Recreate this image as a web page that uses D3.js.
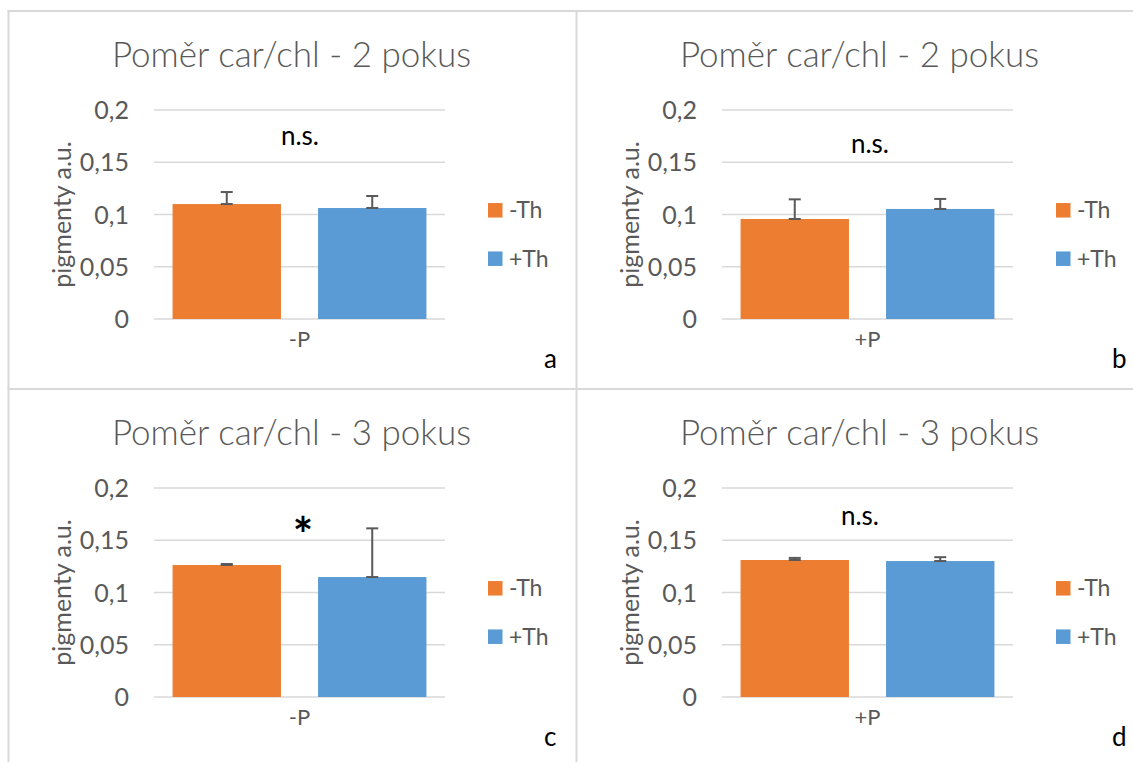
<!DOCTYPE html>
<html>
<head>
<meta charset="utf-8">
<script src="https://cdn.jsdelivr.net/npm/d3@7"></script>
<style>
  body { margin: 0; background: #fff; }
  svg { display: block; }
  text { font-family: Lato, "Open Sans", sans-serif; }
</style>
</head>
<body>
<svg id="chart" width="1133" height="762"></svg>
<script>
// ---- data ----
const panelTitles = [
  "Poměr car/chl - 2 pokus",
  "Poměr car/chl - 2 pokus",
  "Poměr car/chl - 3 pokus",
  "Poměr car/chl - 3 pokus"
];
const categories = ["-P", "+P", "-P", "+P"];
const seriesNames = ["-Th", "+Th"];
const minusThValues = [0.110, 0.0957, 0.1263, 0.1311];
const plusThValues  = [0.1062, 0.1053, 0.1148, 0.1301];
const minusThErrors = [0.0115, 0.0188, 0.001, 0.002];
const plusThErrors  = [0.0115, 0.0096, 0.0466, 0.0037];
const significance  = ["n.s.", "n.s.", "*", "n.s."];
const panelLetters  = ["a", "b", "c", "d"];
const yTickValues   = [0, 0.05, 0.1, 0.15, 0.2];
const yAxisTitle    = "pigmenty a.u.";

// ---- layout ----
const seriesColors = ["#ED7D31", "#5B9BD5"];
const panelOrigins = [[8, 10], [576, 10], [8, 388], [576, 388]];
const plot = { left: 146, right: 437, top: 100, bottom: 309 };
const sigOffsets = [[292, 135], [294, 143], [295, 164], [284, 137]];

const czech = d3.formatLocale({ decimal: ",", thousands: " ", grouping: [3], currency: ["", " Kč"] });
const fmt = czech.format("~g");

const svg = d3.select("#chart");
svg.append("rect").attr("width", 1133).attr("height", 762).attr("fill", "#fff");

// frame lines separating the four charts
const frame = svg.append("g").attr("stroke", "#D9D9D9").attr("stroke-width", 2).attr("fill", "none");
frame.append("line").attr("x1", 7.5).attr("x2", 1133).attr("y1", 11).attr("y2", 11);
frame.append("line").attr("x1", 7.5).attr("x2", 1133).attr("y1", 389).attr("y2", 389);
frame.append("line").attr("x1", 8.5).attr("x2", 8.5).attr("y1", 10).attr("y2", 762);
frame.append("line").attr("x1", 576.5).attr("x2", 576.5).attr("y1", 10).attr("y2", 762);

const y = d3.scaleLinear().domain([0, 0.2]).range([plot.bottom, plot.top]);

panelOrigins.forEach(([ox, oy], i) => {
  const g = svg.append("g").attr("transform", `translate(${ox},${oy})`);

  // title
  g.append("text")
    .attr("x", 283.5).attr("y", 57)
    .attr("text-anchor", "middle")
    .attr("font-size", 35).attr("font-weight", 300)
    .attr("fill", "#595959")
    .text(panelTitles[i]);

  // gridlines
  g.append("g").selectAll("line").data(yTickValues).join("line")
    .attr("x1", plot.left).attr("x2", plot.right)
    .attr("y1", d => y(d)).attr("y2", d => y(d))
    .attr("stroke", "#D9D9D9").attr("stroke-width", 1.5);

  // y axis labels
  const yAxis = g.append("g")
    .attr("transform", `translate(${plot.left},0)`)
    .call(d3.axisLeft(y).tickValues(yTickValues).tickFormat(fmt).tickSize(0).tickPadding(25));
  yAxis.select(".domain").remove();
  yAxis.selectAll("text").attr("font-size", 25).attr("fill", "#595959")
    .attr("font-family", "Lato, 'Open Sans', sans-serif").attr("dy", "0.34em");

  // y axis title
  g.append("text")
    .attr("transform", `translate(54,204.5) rotate(-90)`)
    .attr("text-anchor", "middle").attr("dy", "0.35em")
    .attr("font-size", 25).attr("fill", "#595959")
    .text(yAxisTitle);

  // bars
  const x0 = d3.scaleBand().domain([categories[i]]).range([plot.left, plot.right]);
  const x1 = d3.scaleBand().domain(seriesNames).range([0, x0.bandwidth()])
    .paddingInner(0.255).paddingOuter(0.1276);
  const rows = seriesNames.map((s, k) => ({
    series: s,
    value: k === 0 ? minusThValues[i] : plusThValues[i],
    err: k === 0 ? minusThErrors[i] : plusThErrors[i],
    color: seriesColors[k]
  }));
  const barG = g.append("g").attr("transform", `translate(${x0(categories[i])},0)`);
  barG.selectAll("rect").data(rows).join("rect")
    .attr("x", d => x1(d.series)).attr("width", x1.bandwidth())
    .attr("y", d => y(d.value)).attr("height", d => y(0) - y(d.value))
    .attr("fill", d => d.color);

  // error bars
  const eb = barG.selectAll("g.err").data(rows).join("g").attr("class", "err")
    .attr("stroke", "#595959").attr("stroke-width", 2);
  eb.append("line")
    .attr("x1", d => x1(d.series) + x1.bandwidth() / 2)
    .attr("x2", d => x1(d.series) + x1.bandwidth() / 2)
    .attr("y1", d => y(d.value)).attr("y2", d => y(d.value + d.err));
  [d => d.value, d => d.value + d.err].forEach(acc => {
    eb.append("line")
      .attr("x1", d => x1(d.series) + x1.bandwidth() / 2 - 6)
      .attr("x2", d => x1(d.series) + x1.bandwidth() / 2 + 6)
      .attr("y1", d => y(acc(d))).attr("y2", d => y(acc(d)));
  });

  // category label
  g.append("text")
    .attr("x", (plot.left + plot.right) / 2).attr("y", 337)
    .attr("text-anchor", "middle").attr("font-size", 22).attr("fill", "#595959")
    .text(categories[i]);

  // legend
  const leg = g.append("g");
  seriesNames.forEach((s, k) => {
    const cy = 200.3 + k * 48.4;
    leg.append("rect").attr("x", 480).attr("y", cy - 7.25)
      .attr("width", 14.5).attr("height", 14.5).attr("fill", seriesColors[k]);
    leg.append("text").attr("x", 501).attr("y", cy + 8)
      .attr("font-size", 23).attr("fill", "#595959").text(s);
  });

  // significance note
  const sig = significance[i];
  g.append("text")
    .attr("x", sigOffsets[i][0]).attr("y", sigOffsets[i][1])
    .attr("text-anchor", "middle")
    .attr("font-size", sig === "*" ? 48 : 26)
    .attr("font-weight", sig === "*" ? 700 : 400)
    .attr("fill", "#000")
    .text(sig);

  // panel letter
  g.append("text").attr("x", 536).attr("y", 358)
    .attr("font-size", 26).attr("fill", "#000").text(panelLetters[i]);
});
</script>
</body>
</html>
